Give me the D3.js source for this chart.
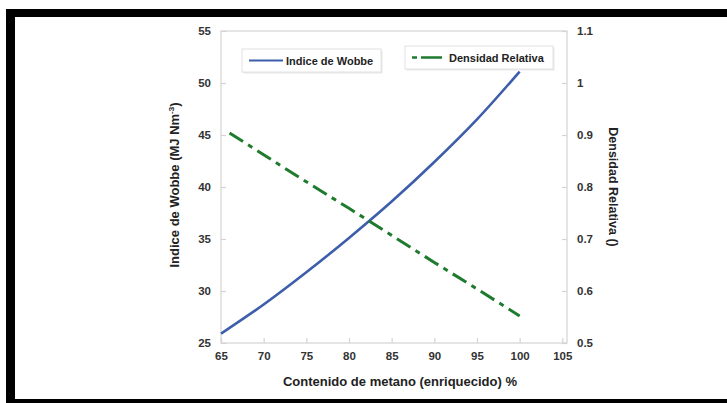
<!DOCTYPE html>
<html>
<head>
<meta charset="utf-8">
<script src="https://cdn.jsdelivr.net/npm/d3@7"></script>
<style>
  body { margin: 0; background: #fff; }
  svg { display: block; font-family: "Liberation Sans", Arial, sans-serif; }
</style>
</head>
<body>
<svg width="727" height="403"></svg>
<script>
  // data
  var metano = [65, 70, 75, 80, 85, 90, 95, 100];
  var wobbe = [25.9, 28.7, 31.8, 35.1, 38.6, 42.4, 46.5, 51.1];
  var metanoDens = [66, 70, 75, 80, 85, 90, 95, 100];
  var densidad = [0.904, 0.862, 0.81, 0.759, 0.707, 0.655, 0.604, 0.552];
  var xTicks = [65, 70, 75, 80, 85, 90, 95, 100, 105];
  var yLeftTicks = [25, 30, 35, 40, 45, 50, 55];
  var yRightTicks = [0.5, 0.6, 0.7, 0.8, 0.9, 1, 1.1];

  (function () {
    var svg = d3.select("svg");

    // black frame
    svg.append("rect").attr("x", 6).attr("y", 9).attr("width", 721).attr("height", 8).attr("fill", "#000");
    svg.append("rect").attr("x", 6).attr("y", 9).attr("width", 9).attr("height", 394).attr("fill", "#000");
    svg.append("rect").attr("x", 6).attr("y", 399).attr("width", 721).attr("height", 4).attr("fill", "#000");

    var plotLeft = 221, plotRight = 567, plotTop = 31, plotBottom = 343;

    var x = d3.scaleLinear().domain([65, 105.55]).range([plotLeft, plotRight]);
    var yL = d3.scaleLinear().domain([25, 55]).range([plotBottom, plotTop]);
    var yR = d3.scaleLinear().domain([0.5, 1.1]).range([plotBottom, plotTop]);

    var gridColor = "#d4d4d4";
    var labelColor = "#333";

    // plot box
    svg.append("rect")
      .attr("x", plotLeft).attr("y", plotTop)
      .attr("width", plotRight - plotLeft).attr("height", plotBottom - plotTop)
      .attr("fill", "none").attr("stroke", gridColor).attr("stroke-width", 1.2);

    function styleAxis(g) {
      g.select(".domain").remove();
      g.selectAll(".tick line").attr("stroke", gridColor).attr("stroke-width", 1.2);
      g.selectAll(".tick text")
        .attr("fill", labelColor)
        .attr("font-size", 11.5)
        .attr("font-weight", "bold");
    }

    svg.append("g")
      .attr("transform", "translate(0," + plotBottom + ")")
      .call(d3.axisBottom(x).tickValues(xTicks).tickSize(-5).tickPadding(9))
      .call(styleAxis);

    svg.append("g")
      .attr("transform", "translate(" + plotLeft + ",0)")
      .call(d3.axisLeft(yL).tickValues(yLeftTicks).tickSize(-5).tickPadding(10))
      .call(styleAxis);

    svg.append("g")
      .attr("transform", "translate(" + plotRight + ",0)")
      .call(d3.axisRight(yR).tickValues(yRightTicks).tickFormat(d3.format("")).tickSize(-5).tickPadding(10))
      .call(styleAxis);

    // axis titles
    svg.append("text")
      .attr("x", 400).attr("y", 386)
      .attr("text-anchor", "middle")
      .attr("font-size", 13).attr("font-weight", "bold").attr("fill", "#222")
      .text("Contenido de metano (enriquecido) %");

    var leftTitle = svg.append("text")
      .attr("transform", "translate(179,185) rotate(-90)")
      .attr("text-anchor", "middle")
      .attr("font-size", 13).attr("font-weight", "bold").attr("fill", "#222");
    leftTitle.append("tspan").text("Indice de Wobbe (MJ Nm");
    leftTitle.append("tspan").attr("dy", -5).attr("font-size", 8).text("-3");
    leftTitle.append("tspan").attr("dy", 5).text(")");

    svg.append("text")
      .attr("transform", "translate(609,187) rotate(90)")
      .attr("text-anchor", "middle")
      .attr("font-size", 12.5).attr("font-weight", "bold").attr("fill", "#222")
      .text("Densidad Relativa ()");

    // series
    var blue = "#3d5eaa";
    var green = "#1e7b2e";

    var wobbeLine = d3.line()
      .x(function (d, i) { return x(metano[i]); })
      .y(function (d) { return yL(d); })
      .curve(d3.curveMonotoneX);

    svg.append("path")
      .attr("d", wobbeLine(wobbe))
      .attr("fill", "none")
      .attr("stroke", blue)
      .attr("stroke-width", 2.6);

    var densLine = d3.line()
      .x(function (d, i) { return x(metanoDens[i]); })
      .y(function (d) { return yR(d); });

    svg.append("path")
      .attr("d", densLine(densidad))
      .attr("fill", "none")
      .attr("stroke", green)
      .attr("stroke-width", 3)
      .attr("stroke-dasharray", "16,6,5,6");

    // legends
    function legend(bx, by, bw, bh, label, color, dash) {
      var g = svg.append("g").attr("transform", "translate(" + bx + "," + by + ")");
      g.append("rect")
        .attr("x", 1.5).attr("y", 1.5).attr("width", bw).attr("height", bh)
        .attr("fill", "#e8e8e8");
      g.append("rect")
        .attr("width", bw).attr("height", bh)
        .attr("fill", "#fff").attr("stroke", "#e2e2e2");
      g.append("line")
        .attr("x1", 7).attr("x2", 41)
        .attr("y1", bh / 2).attr("y2", bh / 2)
        .attr("stroke", color)
        .attr("stroke-width", dash ? 2.6 : 2)
        .attr("stroke-dasharray", dash || null);
      g.append("text")
        .attr("x", 44).attr("y", bh / 2 + 4)
        .attr("font-size", 11).attr("font-weight", "bold").attr("fill", "#222")
        .text(label);
    }

    legend(242, 49, 139, 23, "Indice de Wobbe", blue, null);
    legend(405, 46, 148, 23, "Densidad Relativa", green, "5,4,16,0");
  })();
</script>
</body>
</html>
